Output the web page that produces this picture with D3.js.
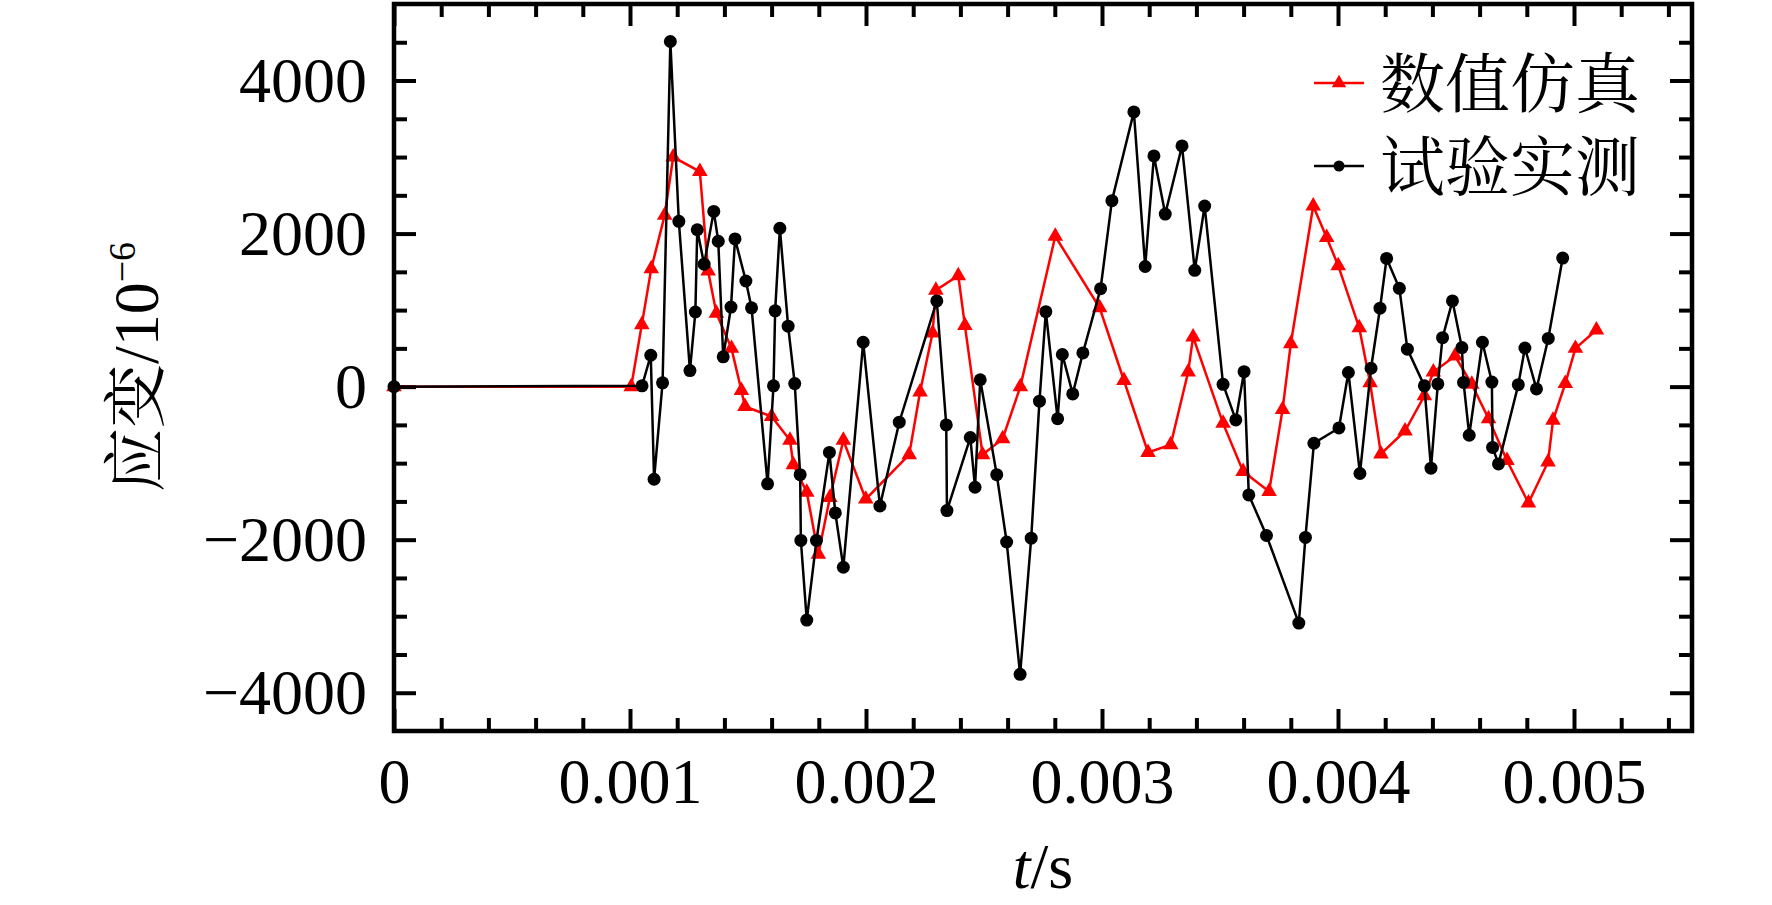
<!DOCTYPE html>
<html lang="zh">
<head>
  <meta charset="UTF-8">
  <title>应变时程</title>
  <style>
    body { margin: 0; background: #fff; overflow: hidden; }
    .num { font-family: "Liberation Serif", "Times New Roman", serif; }
    .cjk { font-family: "Noto Serif CJK SC", "Noto Sans CJK SC", sans-serif; }
  </style>
</head>
<body>
  <script src="https://d3js.org/d3.v7.min.js"></script>
  <script>
    // 数值仿真 (t in s, strain in 1e-6)
    const simTime = [0, 0.001005, 0.00105, 0.00109, 0.001147, 0.001183, 0.001296, 0.001331, 0.001366, 0.00143,
      0.001472, 0.001487, 0.0016, 0.001678, 0.001692, 0.001749, 0.001798, 0.001847, 0.001904, 0.001999,
      0.002183, 0.002229, 0.002282, 0.002296, 0.002391, 0.002419, 0.002494, 0.002579, 0.002654, 0.002802,
      0.00299, 0.003093, 0.003195, 0.003291, 0.003365, 0.003386, 0.003513, 0.003598, 0.003708, 0.003765,
      0.0038, 0.003895, 0.003952, 0.004001, 0.00409, 0.004136, 0.004182, 0.004284, 0.004366, 0.004404,
      0.004496, 0.004567, 0.004638, 0.004716, 0.004807, 0.00489, 0.004911, 0.004963, 0.005006, 0.005095];
    const simStrain = [0, 0, 810, 1540, 2240, 3000, 2810, 1510, 960, 500,
      -50, -260, -390, -700, -1020, -1380, -2190, -1450, -700, -1470,
      -890, -70, 700, 1260, 1450, 800, -890, -680, 0, 1965,
      1030, 80, -860, -760, 190, 650, -480, -1110, -1370, -300,
      560, 2360, 1950, 1580, 770, 50, -880, -580, -120, 190,
      400, 30, -420, -965, -1520, -985, -440, 40, 500, 740];

    // 试验实测
    const testTime = [0, 0.001051, 0.001088, 0.001102, 0.001138, 0.001171, 0.001207, 0.001254, 0.001277, 0.001285,
      0.001314, 0.001355, 0.001374, 0.001395, 0.001428, 0.001445, 0.001491, 0.001515, 0.001583, 0.001608,
      0.001615, 0.001635, 0.00167, 0.001698, 0.001721, 0.001724, 0.001749, 0.00179, 0.001845, 0.00187,
      0.001904, 0.001988, 0.002059, 0.002141, 0.0023, 0.00234, 0.002343, 0.002442, 0.002462, 0.002484,
      0.002554, 0.002596, 0.002653, 0.0027, 0.002735, 0.002762, 0.002812, 0.002832, 0.002876, 0.002919,
      0.002994, 0.003042, 0.003135, 0.003183, 0.00322, 0.003268, 0.003339, 0.003393, 0.003435, 0.003513,
      0.003567, 0.003602, 0.003622, 0.003697, 0.003834, 0.003862, 0.003898, 0.004004, 0.004044, 0.004093,
      0.00414, 0.004178, 0.004206, 0.00426, 0.004294, 0.004366, 0.004394, 0.004423, 0.004443, 0.004485,
      0.004525, 0.004532, 0.004556, 0.004612, 0.004652, 0.004655, 0.00468, 0.004764, 0.004792, 0.004841,
      0.004891, 0.004952];
    const testStrain = [0, 10, 410, -1210, 50, 4510, 2160, 210, 975, 2050,
      1600, 2290, 1900, 390, 1040, 1930, 1380, 1030, -1270, 10,
      990, 2070, 790, 40, -1150, -2010, -3050, -2010, -860, -1650,
      -2360, 580, -1560, -465, 1120, -500, -1620, -665, -1315, 90,
      -1150, -2030, -3760, -1980, -190, 980, -420, 420, -95, 440,
      1280, 2430, 3590, 1570, 3015, 2255, 3145, 1520, 2360, 30,
      -435, 195, -1415, -1945, -3090, -1970, -740, -540, 185, -1135,
      240, 1025, 1675, 1285, 490, 10, -1065, 35, 640, 1120,
      510, 55, -635, 580, 60, -795, -1010, 25, 505, -30,
      630, 1680];

    // 刻度
    const xTicks = [0, 0.001, 0.002, 0.003, 0.004, 0.005];
    const yTicks = [-4000, -2000, 0, 2000, 4000];
    const seriesNames = ["数值仿真", "试验实测"];

    const width = 1772, height = 905;
    const plotLeft = 394, plotRight = 1692, plotTop = 4, plotBottom = 731;

    const x = d3.scaleLinear().domain([0, 0.0055]).range([plotLeft, plotRight]);
    const y = d3.scaleLinear().domain([-4500, 5000]).range([plotBottom, plotTop]);

    const svg = d3.select("body").append("svg")
      .attr("width", width)
      .attr("height", height);

    // 次刻度
    const xMinor = d3.range(1, 28).filter(i => i % 5 !== 0).map(i => i * 0.0002);
    const yMinor = d3.range(-4000, 5000, 500).filter(v => v % 2000 !== 0);

    function styleAxis(g) {
      g.select(".domain").remove();
      g.selectAll(".tick line").attr("stroke", "#000").attr("stroke-width", 4);
      g.selectAll("text").attr("class", "num").attr("font-size", 64).attr("fill", "#000");
    }

    // 下/上
    svg.append("g").attr("transform", `translate(0,${plotBottom})`)
      .call(d3.axisBottom(x).tickValues(xTicks).tickSize(-22).tickPadding(27).tickFormat(d => String(d)))
      .call(styleAxis);
    svg.append("g").attr("transform", `translate(0,${plotBottom})`)
      .call(d3.axisBottom(x).tickValues(xMinor).tickSize(-13).tickFormat(""))
      .call(styleAxis);
    svg.append("g").attr("transform", `translate(0,${plotTop})`)
      .call(d3.axisTop(x).tickValues(xTicks).tickSize(-22).tickFormat(""))
      .call(styleAxis);
    svg.append("g").attr("transform", `translate(0,${plotTop})`)
      .call(d3.axisTop(x).tickValues(xMinor).tickSize(-13).tickFormat(""))
      .call(styleAxis);

    // 左/右
    svg.append("g").attr("transform", `translate(${plotLeft},0)`)
      .call(d3.axisLeft(y).tickValues(yTicks).tickSize(-22).tickPadding(27).tickFormat(d3.format("d")))
      .call(styleAxis);
    svg.append("g").attr("transform", `translate(${plotLeft},0)`)
      .call(d3.axisLeft(y).tickValues(yMinor).tickSize(-13).tickFormat(""))
      .call(styleAxis);
    svg.append("g").attr("transform", `translate(${plotRight},0)`)
      .call(d3.axisRight(y).tickValues(yTicks).tickSize(-22).tickFormat(""))
      .call(styleAxis);
    svg.append("g").attr("transform", `translate(${plotRight},0)`)
      .call(d3.axisRight(y).tickValues(yMinor).tickSize(-13).tickFormat(""))
      .call(styleAxis);

    const line = d3.line().x(d => x(d[0])).y(d => y(d[1]));
    const simData = simTime.map((t, i) => [t, simStrain[i]]);
    const testData = testTime.map((t, i) => [t, testStrain[i]]);
    const triangle = d3.symbol().type(d3.symbolTriangle).size(105);

    // 数值仿真
    svg.append("path").datum(simData)
      .attr("d", line)
      .attr("fill", "none")
      .attr("stroke", "#ff0000")
      .attr("stroke-width", 2.5);
    svg.append("g").selectAll("path")
      .data(simData)
      .join("path")
      .attr("d", triangle)
      .attr("transform", d => `translate(${x(d[0])},${y(d[1])})`)
      .attr("fill", "#ff0000");

    // 试验实测
    svg.append("path").datum(testData)
      .attr("d", line)
      .attr("fill", "none")
      .attr("stroke", "#000")
      .attr("stroke-width", 2.5);
    svg.append("g").selectAll("circle")
      .data(testData)
      .join("circle")
      .attr("cx", d => x(d[0]))
      .attr("cy", d => y(d[1]))
      .attr("r", 6.5)
      .attr("fill", "#000");

    // 边框
    svg.append("rect")
      .attr("x", plotLeft).attr("y", plotTop)
      .attr("width", plotRight - plotLeft).attr("height", plotBottom - plotTop)
      .attr("fill", "none")
      .attr("stroke", "#000")
      .attr("stroke-width", 4.5);

    // 坐标轴标题
    const yTitle = svg.append("text")
      .attr("transform", `translate(158,367) rotate(-90)`)
      .attr("text-anchor", "middle")
      .attr("font-size", 64)
      .attr("fill", "#000");
    yTitle.append("tspan").attr("class", "cjk").text("应变");
    yTitle.append("tspan").attr("class", "num").text("/10");
    yTitle.append("tspan").attr("class", "num").attr("font-size", 38).attr("dy", -23).text("−6");

    const xTitle = svg.append("text")
      .attr("x", (plotLeft + plotRight) / 2)
      .attr("y", 888)
      .attr("text-anchor", "middle")
      .attr("class", "num")
      .attr("font-size", 64)
      .attr("fill", "#000");
    xTitle.append("tspan").attr("font-style", "italic").text("t");
    xTitle.append("tspan").text("/s");

    // 图例
    const legendColors = ["#ff0000", "#000"];
    const legend = svg.append("g");
    seriesNames.forEach((name, i) => {
      const ly = 83 + i * 83;
      legend.append("line")
        .attr("x1", 1314).attr("x2", 1364)
        .attr("y1", ly).attr("y2", ly)
        .attr("stroke", legendColors[i])
        .attr("stroke-width", 2.5);
      if (i === 0) {
        legend.append("path")
          .attr("d", d3.symbol().type(d3.symbolTriangle).size(90))
          .attr("transform", `translate(1339,${ly})`)
          .attr("fill", legendColors[i]);
      } else {
        legend.append("circle")
          .attr("cx", 1339).attr("cy", ly).attr("r", 5.5)
          .attr("fill", legendColors[i]);
      }
      legend.append("text")
        .attr("class", "cjk")
        .attr("x", 1380)
        .attr("y", ly + 24)
        .attr("font-size", 65)
        .attr("fill", "#000")
        .text(name);
    });
  </script>
</body>
</html>
